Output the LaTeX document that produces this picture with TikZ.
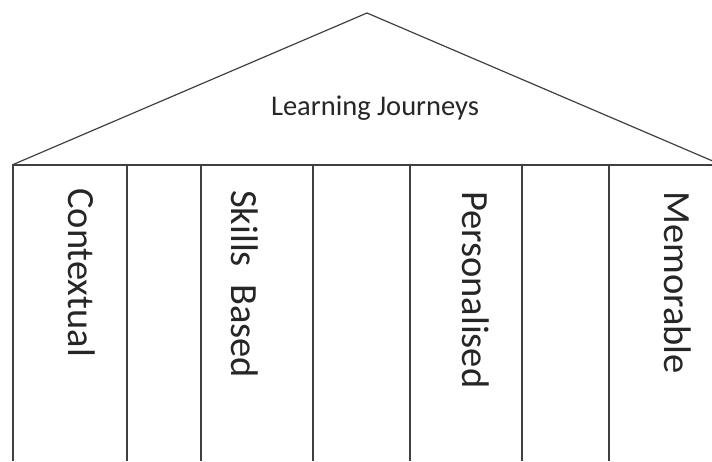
\documentclass[tikz,border=0pt]{standalone}
\usepackage{fontspec}
\setmainfont{Carlito}
\tikzset{
	wall/.style={draw=black!75, line width=1.2pt},
	pillar/.style={rotate=-90, anchor=west, inner sep=0pt, font=\fontsize{38.5}{42}\selectfont, text=black!85},
	title/.style={inner sep=0pt, font=\fontsize{28.5}{32}\selectfont, text=black!85}
}
\begin{document}
\begin{tikzpicture}[x=1pt,y=-1pt]
		\useasboundingbox (0,0) rectangle (712,461);
		\clip (0,0) rectangle (712,461);
		% roof
		\draw[wall] (12,165)--(367,13)--(722,165);
		\draw[wall] (12,165)--(712,165);
		\node[title] (roof) at (375,108) {Learning Journeys};
		% columns
		\foreach \x in {13,127,201,313,410,522,609}
			\draw[wall] (\x,165)--(\x,461);
		\node[pillar] (ctx) at (82,188) {Contextual};
		\node[pillar] (skl) at (245,190) {Skills\ \ Based};
		\node[pillar] (per) at (476,191) {Personalised};
		\node[pillar] (mem) at (678,191) {Memorable};
	\end{tikzpicture}
\end{document}
